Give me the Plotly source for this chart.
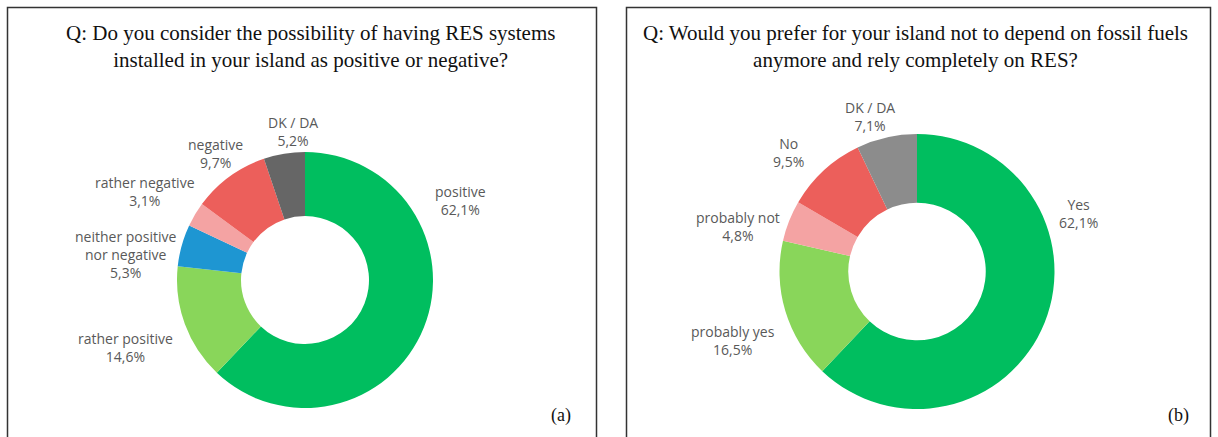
import plotly.graph_objects as go

# ---- data ----
labels_a = ["positive", "rather positive", "neither positive<br>nor negative",
            "rather negative", "negative", "DK / DA"]
values_a = [62.1, 14.6, 5.3, 3.1, 9.7, 5.2]
colors_a = ["#00BE5F", "#89D65A", "#1E96D2", "#F4A3A3", "#EC5F5B", "#666666"]

labels_b = ["Yes", "probably yes", "probably not", "No", "DK / DA"]
values_b = [62.1, 16.5, 4.8, 9.5, 7.1]
colors_b = ["#00BE5F", "#89D65A", "#F4A3A3", "#EC5F5B", "#8C8C8C"]

title_a = "Q: Do you consider the possibility of having RES systems<br>installed in your island as positive or negative?"
title_b = "Q: Would you prefer for your island not to depend on fossil fuels<br>anymore and rely completely on RES?"

# label anchor positions (pixels from top-left), layout only
pos_a = [(460, 200), (125, 347), (125, 254), (145, 191), (215, 153), (293, 131)]
pos_b = [(1078, 213), (733, 340), (738, 226), (788, 152), (870, 116)]

W, H = 1218, 437

def fmt(v):
    return ("%.1f" % v).replace(".", ",") + "%"

fig = go.Figure()
fig.add_trace(go.Pie(
    labels=labels_a, values=values_a, hole=0.5, sort=False, direction="clockwise",
    marker=dict(colors=colors_a, line=dict(width=0)), textinfo="none",
    showlegend=False, hoverinfo="label+percent",
    domain=dict(x=[177 / W, 433 / W], y=[(H - 408) / H, (H - 152) / H]),
))
fig.add_trace(go.Pie(
    labels=labels_b, values=values_b, hole=0.5, sort=False, direction="clockwise",
    marker=dict(colors=colors_b, line=dict(width=0)), textinfo="none",
    showlegend=False, hoverinfo="label+percent",
    domain=dict(x=[779.5 / W, 1054.5 / W], y=[(H - 409) / H, (H - 134) / H]),
))

annotations = []
for lab, val, (px, py) in zip(labels_a + labels_b, values_a + values_b, pos_a + pos_b):
    annotations.append(dict(
        x=px / W, y=1 - py / H, xref="paper", yref="paper",
        text=lab + "<br>" + fmt(val), showarrow=False, xanchor="center", yanchor="middle",
        font=dict(family="Open Sans", size=14, color="#595959"),
    ))

serif = "Liberation Serif"
annotations.append(dict(x=310 / W, y=1 - 46 / H, xref="paper", yref="paper", text=title_a,
                        showarrow=False, xanchor="center", yanchor="middle",
                        font=dict(family=serif, size=21, color="#111111")))
annotations.append(dict(x=915 / W, y=1 - 46 / H, xref="paper", yref="paper", text=title_b,
                        showarrow=False, xanchor="center", yanchor="middle",
                        font=dict(family=serif, size=21, color="#111111")))
annotations.append(dict(x=561 / W, y=1 - 415 / H, xref="paper", yref="paper", text="(a)",
                        showarrow=False, xanchor="center", yanchor="middle",
                        font=dict(family=serif, size=18, color="#111111")))
annotations.append(dict(x=1178 / W, y=1 - 415 / H, xref="paper", yref="paper", text="(b)",
                        showarrow=False, xanchor="center", yanchor="middle",
                        font=dict(family=serif, size=18, color="#111111")))

shapes = [
    dict(type="rect", xref="paper", yref="paper", x0=7.5 / W, x1=596.5 / W,
         y0=-0.05, y1=1 - 7.5 / H, line=dict(color="#333333", width=1.5)),
    dict(type="rect", xref="paper", yref="paper", x0=626.5 / W, x1=1210.5 / W,
         y0=-0.05, y1=1 - 7.5 / H, line=dict(color="#333333", width=1.5)),
]

fig.update_layout(
    width=W, height=H, margin=dict(l=0, r=0, t=0, b=0),
    paper_bgcolor="white", plot_bgcolor="white",
    annotations=annotations, shapes=shapes,
)

fig.write_html("out.html", config={"displayModeBar": False},
               post_script="document.body.style.margin='0';document.body.style.overflow='hidden';")
